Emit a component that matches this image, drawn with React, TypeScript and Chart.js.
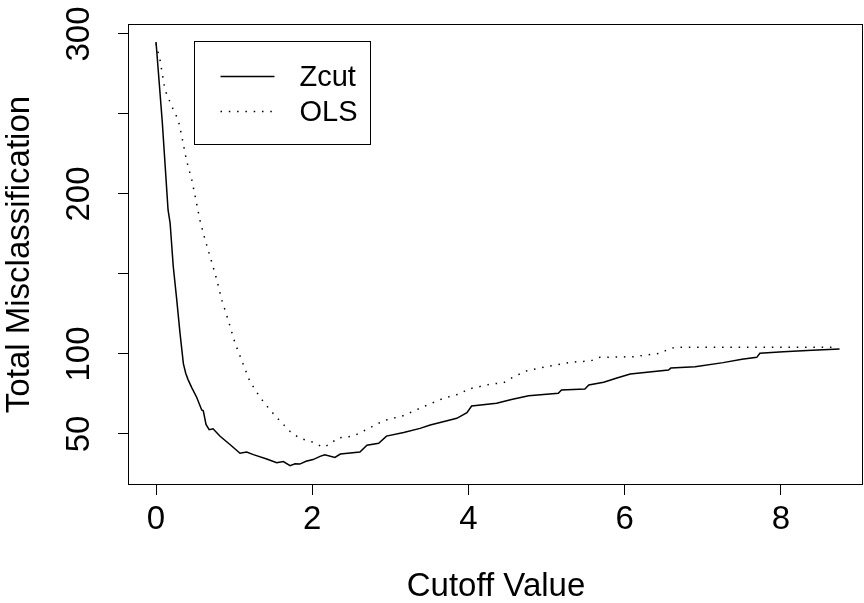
import React, { useEffect, useRef } from 'react';
import { Chart, registerables } from 'chart.js';

Chart.register(...registerables);

const seriesNames = ['Zcut', 'OLS'];
const xTitle = 'Cutoff Value';
const yTitle = 'Total Misclassification';

const xTicks = [0, 2, 4, 6, 8];
const yTicks = [50, 100, 150, 200, 250, 300];
const yLabelled = [50, 100, 200, 300];

const zcutX = [0, 0.08, 0.154, 0.18, 0.22, 0.265, 0.307, 0.35, 0.38, 0.41, 0.457, 0.52, 0.585, 0.605, 0.64, 0.68, 0.73, 0.82, 0.95, 1.075, 1.16, 1.246, 1.417, 1.545, 1.63, 1.716, 1.78, 1.84, 1.92, 2.01, 2.1, 2.16, 2.29, 2.36, 2.61, 2.7, 2.85, 2.95, 3.17, 3.38, 3.51, 3.7, 3.85, 3.98, 4.04, 4.36, 4.55, 4.77, 5.15, 5.19, 5.49, 5.54, 5.73, 5.9, 6.07, 6.56, 6.59, 6.9, 7.26, 7.5, 7.69, 7.73, 8.03, 8.4, 8.75];
const zcutY = [295, 245, 190, 182, 155, 134, 113, 94, 88, 84, 79, 73, 65, 64.5, 56, 52.7, 53.3, 48.6, 43.3, 38, 38.7, 37.1, 34.4, 32, 32.8, 30.2, 31.4, 31.2, 33, 34, 36, 37, 35.4, 37.5, 38.8, 43, 44.2, 48.7, 51, 53.5, 55.6, 58, 59.8, 63.3, 67.5, 69.2, 71.5, 73.9, 75.4, 77.5, 78.1, 80.6, 82.3, 85, 87.5, 90, 91.2, 92.1, 94.6, 96.7, 97.9, 100.4, 101.4, 102.3, 103.1];

const olsX = [0, 0.05, 0.115, 0.2, 0.286, 0.33, 0.39, 0.457, 0.52, 0.56, 0.63, 0.71, 0.78, 0.84, 0.925, 1.01, 1.12, 1.2, 1.33, 1.46, 1.59, 1.72, 1.84, 1.99, 2.14, 2.25, 2.31, 2.53, 2.7, 2.91, 3.17, 3.42, 3.68, 3.91, 3.98, 4.28, 4.45, 4.58, 4.74, 5.04, 5.34, 5.56, 5.68, 6.11, 6.45, 6.54, 6.64, 8.72];
const olsY = [294, 284, 265, 255, 246, 236, 221, 209, 194, 184, 171, 158, 146, 134, 121, 107, 93, 83, 73, 65, 58, 51.4, 47.3, 45.2, 41.7, 44.2, 47.3, 48.8, 52.9, 58.3, 61.5, 67, 72.3, 75.4, 77.9, 81.1, 82.1, 85.8, 89.4, 92.5, 95, 95.6, 97.9, 98.3, 100.4, 102.5, 104.2, 104.2];

const FONT = '"Liberation Sans", Arial, Helvetica, sans-serif';
const AXIS_FONT_SIZE = 33;
const LEGEND_FONT_SIZE = 29;

const framePlugin = {
  id: 'frameAndLegend',
  afterDatasetsDraw(chart: any) {
    const { ctx, chartArea: a } = chart;
    ctx.save();
    ctx.strokeStyle = '#000';
    ctx.lineWidth = 1;
    ctx.setLineDash([]);
    const l = Math.round(a.left) - 0.5;
    const t = Math.round(a.top) - 0.5;
    const r = Math.round(a.right) - 0.5;
    const b = Math.round(a.bottom) + 0.5;
    ctx.strokeRect(l, t, r - l, b - t);

    // legend
    const bx = Math.round(a.left) + 66 - 0.5;
    const by = Math.round(a.top) + 17 - 0.5;
    const bw = 176;
    const bh = 103;
    ctx.strokeRect(bx, by, bw, bh);
    const rows = [by + 35, by + 70];
    chart.data.datasets.forEach((ds: any, i: number) => {
      const y = rows[i];
      ctx.save();
      ctx.strokeStyle = ds.borderColor;
      ctx.lineWidth = ds.borderWidth;
      ctx.setLineDash(ds.borderDash || []);
      ctx.beginPath();
      ctx.moveTo(bx + 26, y);
      ctx.lineTo(bx + 80, y);
      ctx.stroke();
      ctx.restore();
      ctx.fillStyle = '#000';
      ctx.font = `${LEGEND_FONT_SIZE}px ${FONT}`;
      ctx.textBaseline = 'middle';
      ctx.textAlign = 'left';
      ctx.fillText(ds.label, bx + 105, y + 1);
    });
    ctx.restore();
  },
};

export default function App() {
  const canvasRef = useRef<HTMLCanvasElement | null>(null);

  useEffect(() => {
    if (!canvasRef.current) return;
    Chart.defaults.font.family = FONT;
    const chart = new Chart(canvasRef.current, {
      type: 'line',
      data: {
        datasets: [
          {
            label: seriesNames[0],
            data: zcutX.map((x, i) => ({ x, y: zcutY[i] })),
            borderColor: '#000',
            borderWidth: 1.5,
            pointRadius: 0,
            tension: 0,
            fill: false,
          },
          {
            label: seriesNames[1],
            data: olsX.map((x, i) => ({ x, y: olsY[i] })),
            borderColor: '#000',
            borderWidth: 1.5,
            borderDash: [1.5, 6.8],
            pointRadius: 0,
            tension: 0,
            fill: false,
          },
        ],
      },
      options: {
        responsive: false,
        maintainAspectRatio: false,
        animation: false,
        devicePixelRatio: 1,
        layout: { padding: { top: 25, right: 1, left: 0, bottom: 0 } },
        plugins: {
          legend: { display: false },
          tooltip: { enabled: false },
        },
        scales: {
          x: {
            type: 'linear',
            min: -0.346,
            max: 9.05,
            afterBuildTicks: (s: any) => {
              s.ticks = xTicks.map((v) => ({ value: v }));
            },
            afterFit: (s: any) => {
              s.height = 119;
              s.paddingLeft = 0;
              s.paddingRight = 0;
            },
            grid: {
              display: true,
              drawOnChartArea: false,
              drawTicks: true,
              tickLength: 11,
              color: '#000',
              lineWidth: 1,
            },
            border: { display: false },
            ticks: {
              color: '#000',
              font: { size: AXIS_FONT_SIZE },
              padding: 5,
              maxRotation: 0,
              autoSkip: false,
              callback: (v: any) => String(v),
            },
            title: {
              display: true,
              text: xTitle,
              color: '#000',
              font: { size: AXIS_FONT_SIZE },
              padding: { top: 0, bottom: -4 },
            },
          },
          y: {
            type: 'linear',
            min: 18.75,
            max: 305.6,
            afterBuildTicks: (s: any) => {
              s.ticks = yTicks.map((v) => ({ value: v }));
            },
            afterFit: (s: any) => {
              s.width = 129;
              s.paddingTop = 0;
              s.paddingBottom = 0;
            },
            grid: {
              display: true,
              drawOnChartArea: false,
              drawTicks: true,
              tickLength: 11,
              color: '#000',
              lineWidth: 1,
            },
            border: { display: false },
            ticks: {
              color: '#000',
              font: { size: AXIS_FONT_SIZE },
              padding: 11,
              minRotation: 90,
              maxRotation: 90,
              crossAlign: 'center',
              autoSkip: false,
              callback: (v: any) => (yLabelled.includes(v) ? String(v) : ''),
            },
            title: {
              display: true,
              text: yTitle,
              color: '#000',
              font: { size: AXIS_FONT_SIZE },
              padding: { top: 0, bottom: 0 },
            },
          },
        },
      },
      plugins: [framePlugin],
    } as any);
    return () => chart.destroy();
  }, []);

  return (
    <div style={{ position: 'absolute', left: 0, top: 0, width: 864, height: 603, background: '#fff' }}>
      <canvas ref={canvasRef} width={864} height={603} style={{ display: 'block' }} />
    </div>
  );
}
